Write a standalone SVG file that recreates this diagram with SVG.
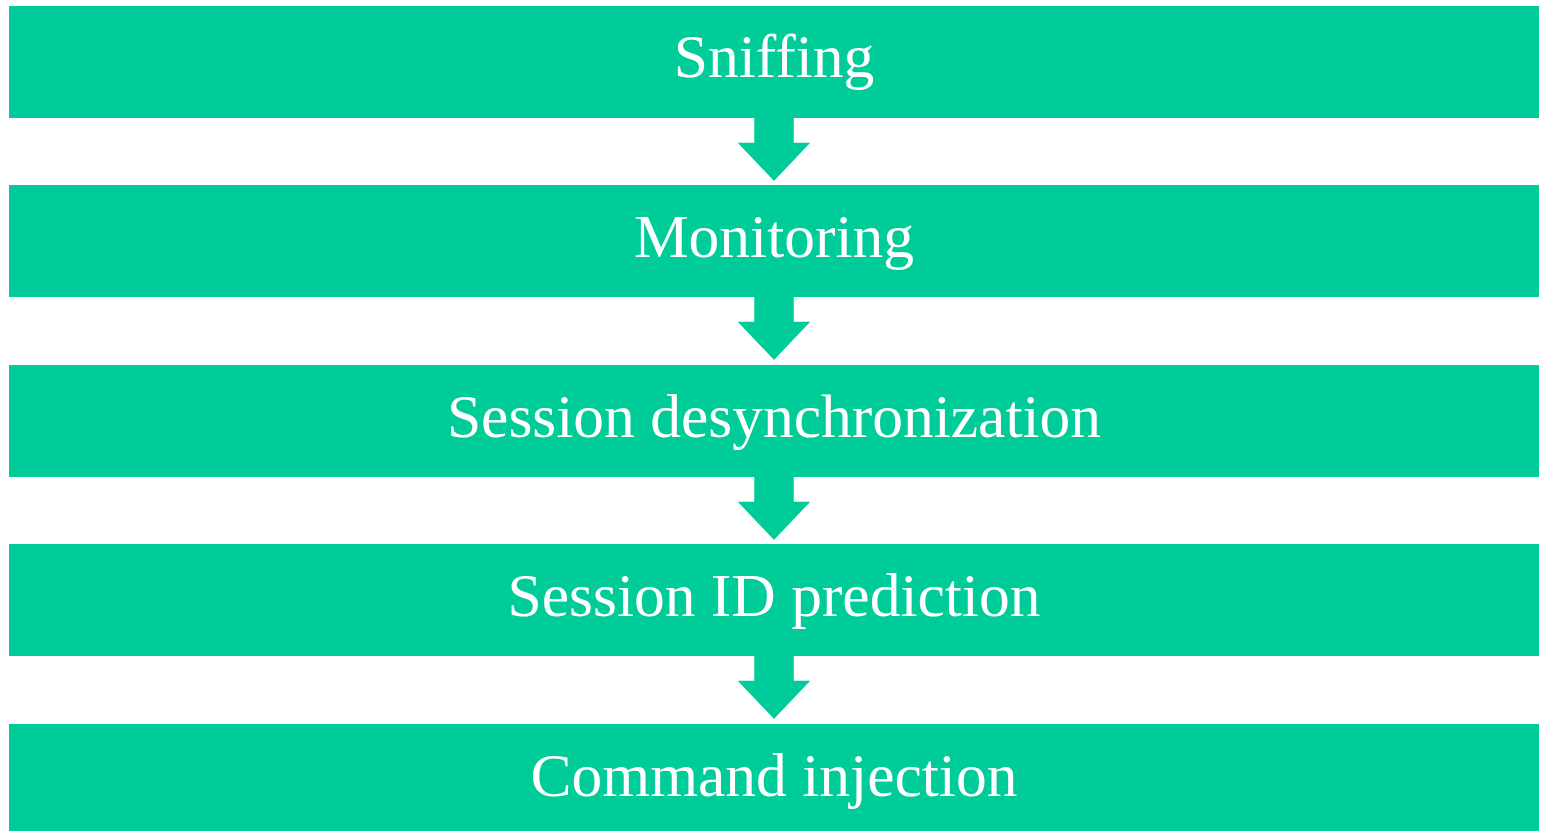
<svg xmlns="http://www.w3.org/2000/svg" width="1542" height="831" viewBox="0 0 1542 831">
  <style>
    .box { fill: #00CC99; }
    .label { fill: #ffffff; font-family: "Liberation Serif", "DejaVu Serif", serif; font-size: 61.5px; text-anchor: middle; }
    .arrow { fill: #00CC99; stroke: #ffffff; stroke-width: 1.5; stroke-linejoin: miter; }
  </style>
  <rect width="1542" height="831" fill="#ffffff"/>

  <g id="step-sniffing">
    <rect class="box" x="9" y="6" width="1530" height="112"/>
    <text class="label" x="774" y="77">Sniffing</text>
  </g>
  <g id="step-monitoring">
    <rect class="box" x="9" y="185" width="1530" height="112"/>
    <text class="label" x="774" y="257">Monitoring</text>
  </g>
  <g id="step-desync">
    <rect class="box" x="9" y="365" width="1530" height="112"/>
    <text class="label" x="774" y="437">Session desynchronization</text>
  </g>
  <g id="step-prediction">
    <rect class="box" x="9" y="544" width="1530" height="112"/>
    <text class="label" x="774" y="616">Session ID prediction</text>
  </g>
  <g id="step-injection">
    <rect class="box" x="9" y="724" width="1530" height="112"/>
    <text class="label" x="774" y="796">Command injection</text>
  </g>

  <g id="connectors">
    <defs>
      <path id="down-arrow" d="M753.5 0 V24 H736 L774 64 L812 24 H794.5 V0"/>
    </defs>
    <use href="#down-arrow" class="arrow" y="118"/>
    <use href="#down-arrow" class="arrow" y="297"/>
    <use href="#down-arrow" class="arrow" y="477"/>
    <use href="#down-arrow" class="arrow" y="656"/>
  </g>
</svg>
